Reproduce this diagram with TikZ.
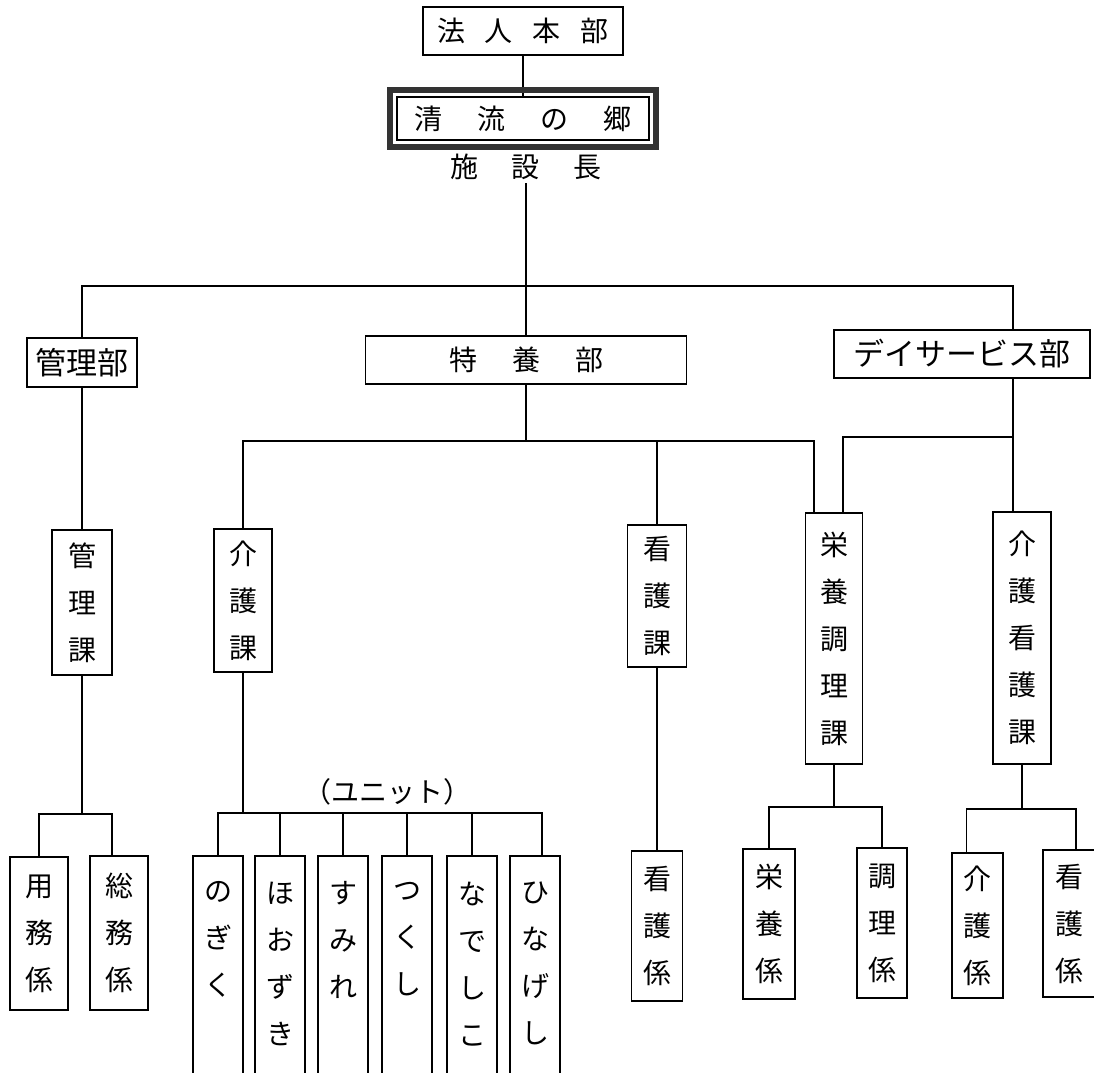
\documentclass[tikz,border=0pt]{standalone}
\usepackage{fontspec}
\setmainfont{Noto Sans CJK JP}
\newcommand{\tatetext}[1]{\parbox[t][220pt][t]{32pt}{\centering #1}}

\begin{document}
\begin{tikzpicture}[x=1pt, y=-1pt,
    box/.style={draw, line width=1.6pt, inner sep=0pt, font=\fontsize{28}{47}\selectfont},
    bigbox/.style={box, font=\fontsize{31}{36}\selectfont},
    tate/.style={box, align=center, minimum width=58pt},
    unit/.style={box, anchor=north, minimum width=50pt, inner xsep=0pt, inner ysep=26pt},
    link/.style={line width=1.5pt}]
  \useasboundingbox (0,0) rectangle (1094,1072);
  \clip (0,0) rectangle (1094,1072);

  % 法人本部と施設長
  \node (hq) [box, minimum width=200pt, minimum height=48pt] at (523,31) {法\hspace{20pt}人\hspace{20pt}本\hspace{20pt}部};
  \node (seiryu) [box, minimum width=252pt, minimum height=43pt] at (523,118.5) {清\hspace{35pt}流\hspace{35pt}の\hspace{35pt}郷};
  \node (chief) [font=\fontsize{28}{34}\selectfont] at (526,167) {施\hspace{34pt}設\hspace{34pt}長};

  % 部
  \node (kanribu) [bigbox, minimum width=110pt, minimum height=49pt] at (82,362.5) {管理部};
  \node (tokuyo) [box, minimum width=321pt, minimum height=48pt] at (526,360) {特\hspace{35pt}養\hspace{35pt}部};
  \node (day) [bigbox, minimum width=256pt, minimum height=48pt] at (962,354) {デイサービス部};

  % 課
  \node (kanrika) [tate, minimum width=60pt, minimum height=145pt] at (82,602.5) {管\\理\\課};
  \node (kaigoka) [tate, minimum height=143pt] at (243,600.5) {介\\護\\課};
  \node (kangoka) [tate, minimum width=59pt, minimum height=142pt] at (657,596) {看\\護\\課};
  \node (eiyoka) [tate, minimum width=57pt, minimum height=251pt] at (834,638.5) {栄\\養\\調\\理\\課};
  \node (kkka) [tate, minimum height=252pt] at (1022,638) {介\\護\\看\\護\\課};

  % 係
  \node (yomu) [tate, minimum height=153pt] at (39,933.5) {用\\務\\係};
  \node (somu) [tate, minimum height=154pt] at (119,933) {総\\務\\係};
  \node (kango) [tate, minimum width=51pt, minimum height=150pt] at (657,926) {看\\護\\係};
  \node (eiyo) [tate, minimum width=52pt, minimum height=150pt] at (769,924) {栄\\養\\係};
  \node (chori) [tate, minimum width=50pt, minimum height=150pt] at (882,923) {調\\理\\係};
  \node (kaigo) [tate, minimum width=51pt, minimum height=145pt] at (977.5,925.5) {介\\護\\係};
  \node (kango2) [tate, minimum width=52pt, minimum height=147pt] at (1069,923.5) {看\\護\\係};

  % ユニット
  \node (unitlabel) [font=\fontsize{28}{34}\selectfont] at (387,792) {（ユニット）};
  \node (nogiku) [unit] at (218,855) {\tatetext{の\\ぎ\\く}};
  \node (hozuki) [unit] at (280,855) {\tatetext{ほ\\お\\ず\\き}};
  \node (sumire) [unit] at (343,855) {\tatetext{す\\み\\れ}};
  \node (tsukushi) [unit] at (407,855) {\tatetext{つ\\く\\し}};
  \node (nadeshiko) [unit] at (472,855) {\tatetext{な\\で\\し\\こ}};
  \node (hinageshi) [unit] at (535,855) {\tatetext{ひ\\な\\げ\\し}};

  % 分岐点
  \coordinate (jtop) at (526,286);
  \coordinate (jtk) at (526,441);
  \coordinate (jday) at (1013,437);
  \coordinate (jkr) at (82,814);
  \coordinate (ju) at (243,813);
  \coordinate (jey) at (834,807);
  \coordinate (jkk) at (1022,809);

  \draw[link] (hq) -- (seiryu);
  \draw[line width=6pt, black!80] ([shift={(-6,-6)}]seiryu.north west) rectangle ([shift={(6,6)}]seiryu.south east);
  \draw[link] (chief) -- (jtop);
  \draw[link] (kanribu.north) |- (jtop) -| ([xshift=51]day.north);
  \draw[link] (jtop) -- (tokuyo);

  \draw[link] (kanribu) -- (kanrika);
  \draw[link] (tokuyo) -- (jtk);
  \draw[link] (kaigoka.north) |- (jtk) -| ([xshift=-20]eiyoka.north);
  \draw[link] (jtk -| kangoka) -- (kangoka);
  \draw[link] ([xshift=51]day.south) -- ([xshift=-9]kkka.north);
  \draw[link] (jday) -| ([xshift=9]eiyoka.north);

  \draw[link] (kanrika) -- (jkr);
  \draw[link] (yomu.north) |- (jkr) -| ([xshift=-7]somu.north);
  \draw[link] (kaigoka) -- (ju);
  \draw[link] (nogiku.north) |- (ju) -| ([xshift=7]hinageshi.north);
  \foreach \u in {hozuki, sumire, tsukushi, nadeshiko}
    \draw[link] (\u.north) -- (\u.north |- ju);
  \draw[link] (kangoka) -- (kango);
  \draw[link] (eiyoka) -- (jey);
  \draw[link] (eiyo.north) |- (jey) -| (chori.north);
  \draw[link] (kkka) -- (jkk);
  \draw[link] ([xshift=-11]kaigo.north) |- (jkk) -| ([xshift=7]kango2.north);
\end{tikzpicture}
\end{document}
